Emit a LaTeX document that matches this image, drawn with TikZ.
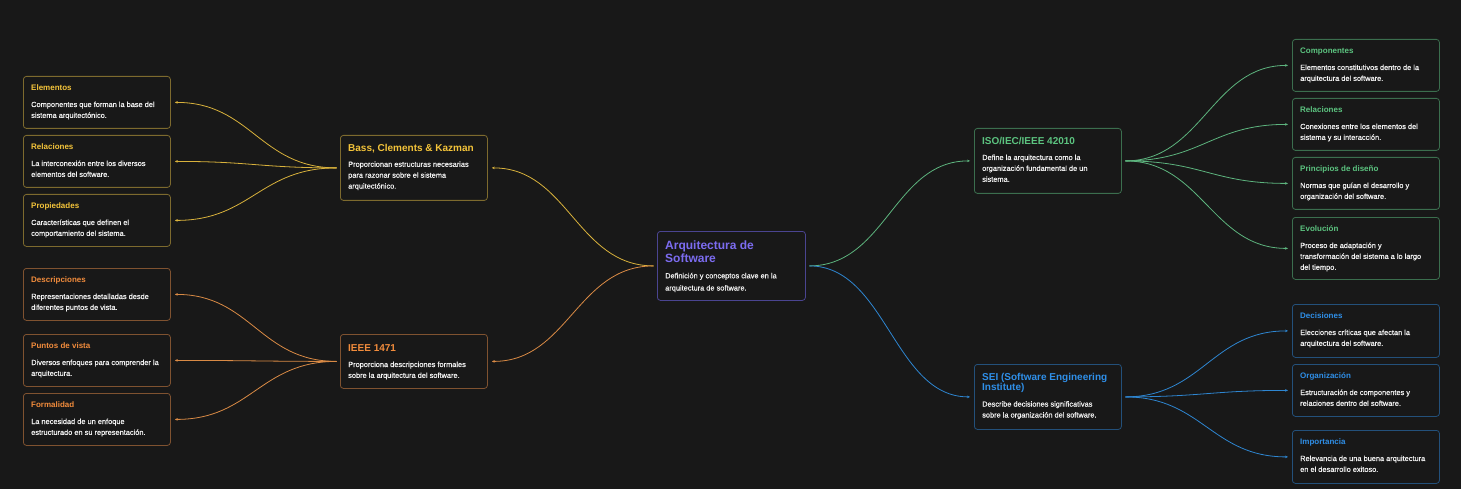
\documentclass[tikz,border=0pt]{standalone}
\usepackage{fontspec}
\setmainfont{Liberation Sans}
\newfontfamily\mmdescfont[FakeBold=0.6]{Liberation Sans}
\usetikzlibrary{arrows.meta}
\definecolor{bg}{HTML}{181818}
\definecolor{descT}{HTML}{F2F2F2}
\definecolor{purT}{HTML}{7C6CF0}\definecolor{purB}{HTML}{4A4490}\definecolor{purL}{HTML}{7C6CF0}
\definecolor{ylwT}{HTML}{F4C43A}\definecolor{ylwB}{HTML}{7D6A2E}\definecolor{ylwL}{HTML}{D9B23C}
\definecolor{orgT}{HTML}{F28C3C}\definecolor{orgB}{HTML}{7F5230}\definecolor{orgL}{HTML}{D98A45}
\definecolor{grnT}{HTML}{5CC480}\definecolor{grnB}{HTML}{3B6E4E}\definecolor{grnL}{HTML}{5DB47E}
\definecolor{bluT}{HTML}{2F8FE8}\definecolor{bluB}{HTML}{23507A}\definecolor{bluL}{HTML}{2E86D1}
\tikzset{
  mmbox/.style={draw=#1B, fill=bg, rounded corners=3pt, line width=0.8pt, anchor=north west,
    minimum width=147pt, inner sep=0pt},
  leaftitle/.style={anchor=base west, inner sep=0pt, text=#1T, font=\bfseries\fontsize{8}{10}\selectfont},
  maintitle/.style={anchor=base west, inner sep=0pt, text=#1T, font=\bfseries\fontsize{10}{10.7}\selectfont},
  desctext/.style={anchor=base west, inner sep=0pt, text=descT, font=\mmdescfont\fontsize{7.4}{10.9}\selectfont},
  lk/.style={draw=#1L, line width=0.8pt, -{Stealth[length=3pt,width=2.6pt]}, shorten <=3.5pt, shorten >=4pt},
}
\newcommand{\mmleaf}[7]{%
  \node[mmbox=#5, minimum height=#4pt] (#1) at (#2,#3) {};
  \node[leaftitle=#5] (#1-t) at ([xshift=8pt,yshift=-14.3pt]#1.north west) {#6};
  \node[desctext] (#1-d) at ([xshift=8pt,yshift=-31pt]#1.north west) {\parbox[t]{140pt}{\raggedright #7}};
}
\newcommand{\mmmain}[9]{%
  \node[mmbox=#5, minimum height=#4pt] (#1) at (#2,#3) {};
  \node[maintitle=#5] (#1-t) at ([xshift=8pt,yshift=-#8pt]#1.north west) {\parbox[t]{140pt}{\raggedright #6}};
  \node[desctext] (#1-d) at ([xshift=8pt,yshift=-#9pt]#1.north west) {\parbox[t]{140pt}{\raggedright #7}};
}
\begin{document}
\begin{tikzpicture}[x=1pt,y=-1pt]
\fill[bg] (0,0) rectangle (1461,489);
\useasboundingbox (0,0) rectangle (1461,489);

% center
\node[mmbox=pur, minimum width=148pt, minimum height=69pt] (root) at (657,231) {};
\node[anchor=base west, inner sep=0pt, text=purT, font=\bfseries\fontsize{12}{13.3}\selectfont] (root-t)
  at ([xshift=8pt,yshift=-18pt]root.north west) {\parbox[t]{140pt}{\raggedright Arquitectura de\\Software}};
\node[desctext, font=\mmdescfont\fontsize{7.4}{12.2}\selectfont] (root-d) at ([xshift=8pt,yshift=-47.3pt]root.north west)
  {\parbox[t]{140pt}{\raggedright Definición y conceptos clave en la\\arquitectura de software.}};

% main branches
\mmmain{bass}{340}{135}{65}{ylw}{Bass, Clements \& Kazman}{Proporcionan estructuras necesarias\\para razonar sobre el sistema\\arquitectónico.}{16.8}{31.8}
\mmmain{ieee}{340}{334}{54}{org}{IEEE 1471}{Proporciona descripciones formales\\sobre la arquitectura del software.}{17}{33}
\mmmain{iso}{974}{128}{65}{grn}{ISO/IEC/IEEE 42010}{Define la arquitectura como la\\organización fundamental de un\\sistema.}{16.2}{32}
\mmmain{sei}{974}{364}{65}{blu}{SEI (Software Engineering\\Institute)}{Describe decisiones significativas\\sobre la organización del software.}{16}{42.6}

% left leaves
\mmleaf{elem}{23}{76}{52}{ylw}{Elementos}{Componentes que forman la base del\\sistema arquitectónico.}
\mmleaf{relL}{23}{135}{52}{ylw}{Relaciones}{La interconexión entre los diversos\\elementos del software.}
\mmleaf{prop}{23}{194}{52}{ylw}{Propiedades}{Características que definen el\\comportamiento del sistema.}
\mmleaf{descr}{23}{268}{52}{org}{Descripciones}{Representaciones detalladas desde\\diferentes puntos de vista.}
\mmleaf{pvis}{23}{334}{52}{org}{Puntos de vista}{Diversos enfoques para comprender la\\arquitectura.}
\mmleaf{form}{23}{393}{52}{org}{Formalidad}{La necesidad de un enfoque\\estructurado en su representación.}

% right leaves
\mmleaf{comp}{1292}{39}{52}{grn}{Componentes}{Elementos constitutivos dentro de la\\arquitectura del software.}
\mmleaf{relR}{1292}{98}{52}{grn}{Relaciones}{Conexiones entre los elementos del\\sistema y su interacción.}
\mmleaf{princ}{1292}{157}{52}{grn}{Principios de diseño}{Normas que guían el desarrollo y\\organización del software.}
\mmleaf{evol}{1292}{217}{62}{grn}{Evolución}{Proceso de adaptación y\\transformación del sistema a lo largo\\del tiempo.}
\mmleaf{deci}{1292}{304}{53}{blu}{Decisiones}{Elecciones críticas que afectan la\\arquitectura del software.}
\mmleaf{orga}{1292}{364}{52}{blu}{Organización}{Estructuración de componentes y\\relaciones dentro del software.}
\mmleaf{impo}{1292}{430}{53}{blu}{Importancia}{Relevancia de una buena arquitectura\\en el desarrollo exitoso.}

% connectors: root to main
\draw[lk=ylw] (root.west) .. controls +(-80,0) and +(80,0) .. (bass.east);
\draw[lk=org] (root.west) .. controls +(-80,0) and +(80,0) .. (ieee.east);
\draw[lk=grn] (root.east) .. controls +(80,0) and +(-80,0) .. (iso.west);
\draw[lk=blu] (root.east) .. controls +(80,0) and +(-80,0) .. (sei.west);

% main to leaves
\foreach \c in {elem,relL,prop}
  \draw[lk=ylw] (bass.west) .. controls +(-80,0) and +(80,0) .. (\c.east);
\foreach \c in {descr,pvis,form}
  \draw[lk=org] (ieee.west) .. controls +(-80,0) and +(80,0) .. (\c.east);
\foreach \c in {comp,relR,princ,evol}
  \draw[lk=grn] (iso.east) .. controls +(80,0) and +(-80,0) .. (\c.west);
\foreach \c in {deci,orga,impo}
  \draw[lk=blu] (sei.east) .. controls +(80,0) and +(-80,0) .. (\c.west);
\end{tikzpicture}
\end{document}
